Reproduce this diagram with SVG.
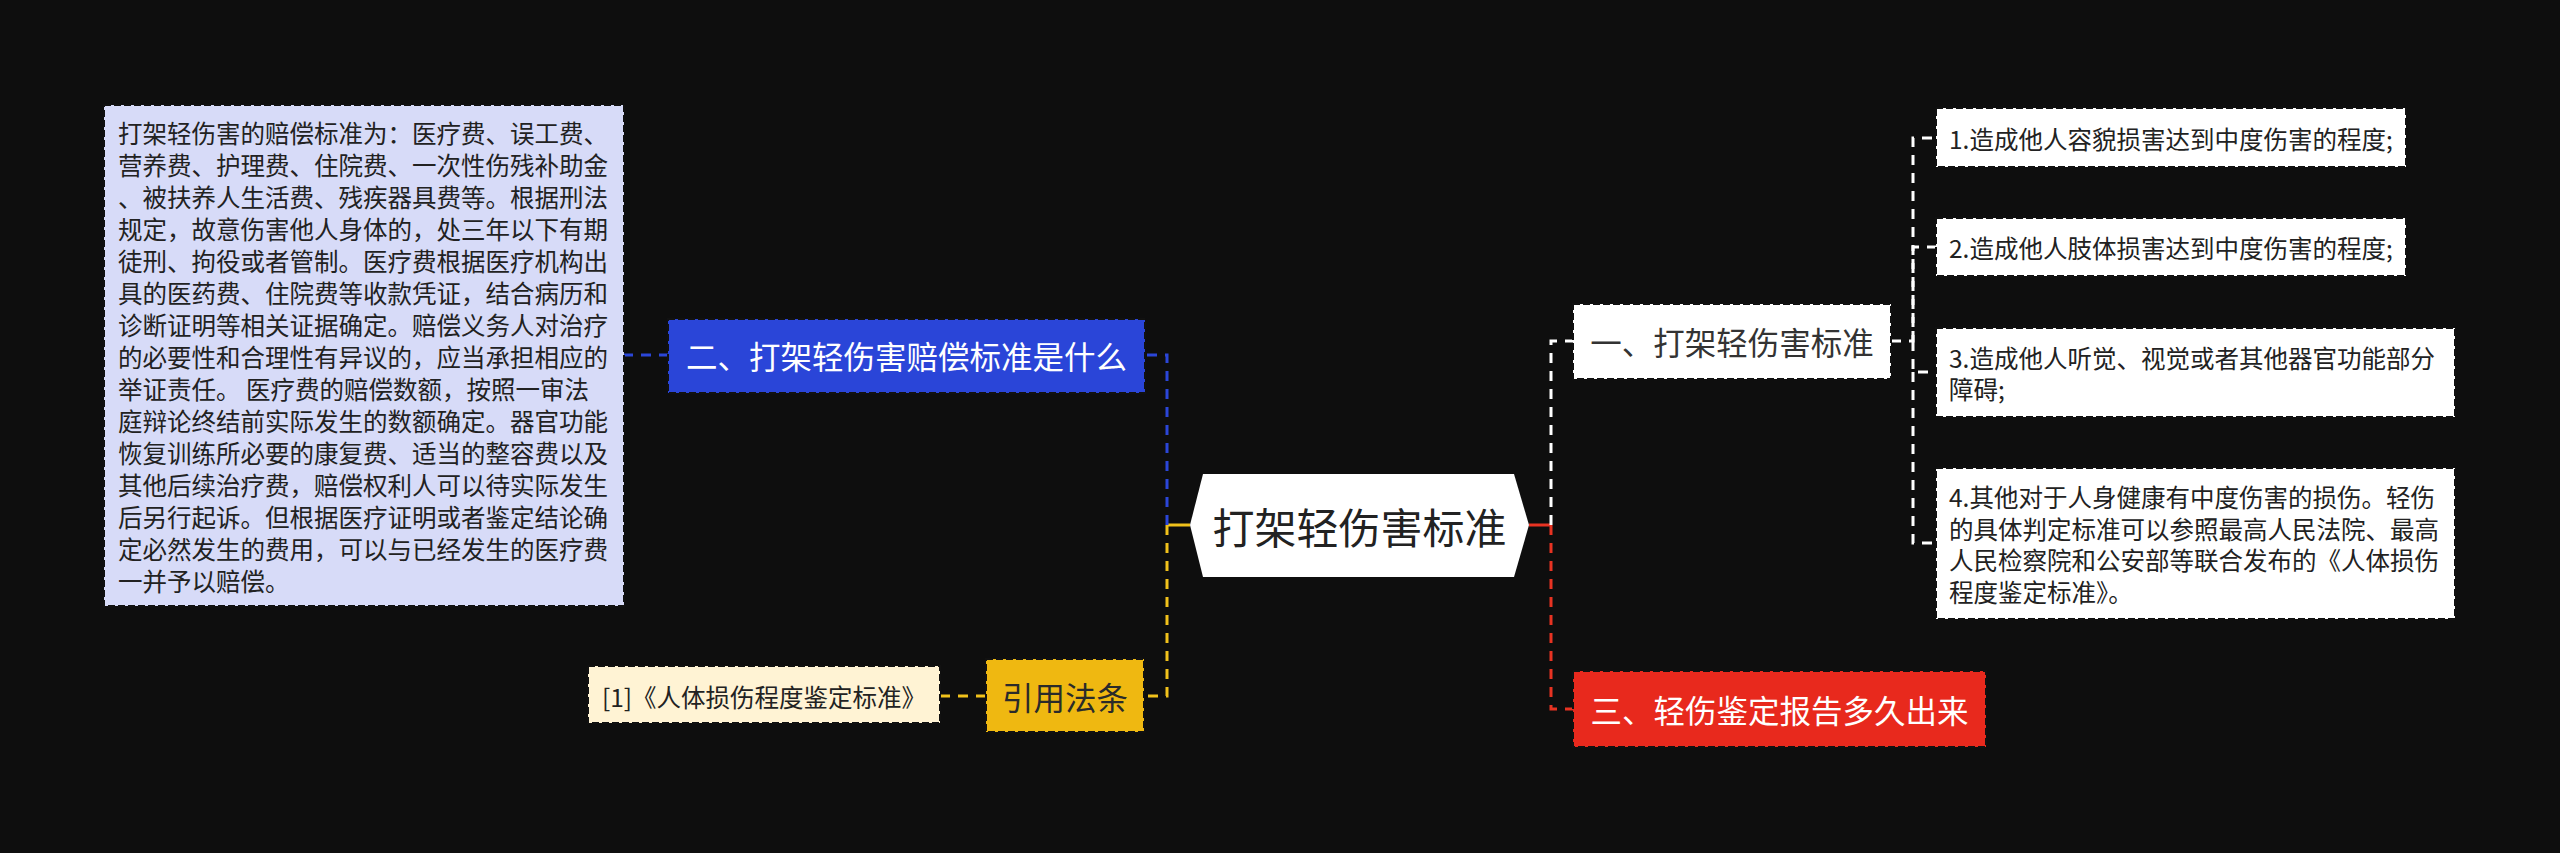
<svg xmlns="http://www.w3.org/2000/svg" width="2560" height="853" viewBox="0 0 2560 853">
<style>
text{font-family:"Noto Sans CJK SC","Noto Sans",sans-serif;dominant-baseline:central}
.box{stroke:#111;stroke-width:2;stroke-dasharray:7 3}
.sm{font-size:24.5px;fill:#222}
.lg{font-size:31.5px}
.c{fill:none;stroke-width:3;stroke-dasharray:10 8}
.s{fill:none;stroke-width:3}
</style>
<rect width="2560" height="853" fill="#0E0E0E"/>
<g id="connectors">
<path class="s" d="M1190,525H1167" stroke="#F1C21B"/>
<path class="c" d="M1167,525V355H1145" stroke="#2B46D8"/>
<path class="c" d="M669,355H624" stroke="#2B46D8"/>
<path class="c" d="M1167,525V696H1144" stroke="#F1C21B"/>
<path class="c" d="M986,696H940" stroke="#F1C21B"/>
<path class="s" d="M1529,525H1551" stroke="#E83322"/>
<path class="c" d="M1551,525V341H1573" stroke="#FFFFFF"/>
<path class="c" d="M1551,525V709H1573" stroke="#E83322"/>
<path class="c" d="M1891,341H1913V138H1936" stroke="#FFFFFF"/>
<path class="c" d="M1913,341V247H1936" stroke="#FFFFFF"/>
<path class="c" d="M1913,341V372H1936" stroke="#FFFFFF"/>
<path class="c" d="M1913,372V543H1936" stroke="#FFFFFF"/>
</g>
<g id="root">
<polygon points="1203,474 1514,474 1529,525 1514,577 1203,577 1190,525" fill="#FFFFFF"/>
<text x="1359.5" y="525" text-anchor="middle" style="font-size:42px" fill="#222">打架轻伤害标准</text>
</g>
<g id="n-er">
<rect class="box" x="668" y="319" width="477" height="74" fill="#2A45D8"/>
<text class="lg" x="906.5" y="355" text-anchor="middle" fill="#FFFFFF">二、打架轻伤害赔偿标准是什么</text>
</g>
<g id="n-er-detail">
<rect class="box" x="104" y="105" width="520" height="501" fill="#D7DBF8"/>
<text class="sm" x="118" fill="#1E1E35">
<tspan x="118" y="132">打架轻伤害的赔偿标准为：医疗费、误工费、</tspan>
<tspan x="118" y="164">营养费、护理费、住院费、一次性伤残补助金</tspan>
<tspan x="118" y="196">、被扶养人生活费、残疾器具费等。根据刑法</tspan>
<tspan x="118" y="228">规定，故意伤害他人身体的，处三年以下有期</tspan>
<tspan x="118" y="260">徒刑、拘役或者管制。医疗费根据医疗机构出</tspan>
<tspan x="118" y="292">具的医药费、住院费等收款凭证，结合病历和</tspan>
<tspan x="118" y="324">诊断证明等相关证据确定。赔偿义务人对治疗</tspan>
<tspan x="118" y="356">的必要性和合理性有异议的，应当承担相应的</tspan>
<tspan x="118" y="388">举证责任。 医疗费的赔偿数额，按照一审法</tspan>
<tspan x="118" y="420">庭辩论终结前实际发生的数额确定。器官功能</tspan>
<tspan x="118" y="452">恢复训练所必要的康复费、适当的整容费以及</tspan>
<tspan x="118" y="484">其他后续治疗费，赔偿权利人可以待实际发生</tspan>
<tspan x="118" y="516">后另行起诉。但根据医疗证明或者鉴定结论确</tspan>
<tspan x="118" y="548">定必然发生的费用，可以与已经发生的医疗费</tspan>
<tspan x="118" y="580">一并予以赔偿。</tspan>
</text>
</g>
<g id="n-yinyong">
<rect class="box" x="986" y="659" width="158" height="73" fill="#EFB811"/>
<text class="lg" x="1065" y="696" text-anchor="middle" fill="#2A2A2A">引用法条</text>
</g>
<g id="n-yinyong-1">
<rect class="box" x="588" y="666" width="352" height="57" fill="#FFF3D4"/>
<text class="sm" x="764" y="696" text-anchor="middle" fill="#333">[1]《人体损伤程度鉴定标准》</text>
</g>
<g id="n-yi">
<rect class="box" x="1573" y="304" width="318" height="75" fill="#FFFFFF"/>
<text class="lg" x="1732" y="341" text-anchor="middle" fill="#333">一、打架轻伤害标准</text>
</g>
<g id="n-yi-1">
<rect class="box" x="1936" y="108" width="470" height="59" fill="#FFFFFF"/>
<text class="sm" x="1949" y="138" fill="#333">1.造成他人容貌损害达到中度伤害的程度;</text>
</g>
<g id="n-yi-2">
<rect class="box" x="1936" y="218" width="470" height="58" fill="#FFFFFF"/>
<text class="sm" x="1949" y="247" fill="#333">2.造成他人肢体损害达到中度伤害的程度;</text>
</g>
<g id="n-yi-3">
<rect class="box" x="1936" y="328" width="519" height="89" fill="#FFFFFF"/>
<text class="sm" fill="#333"><tspan x="1949" y="357">3.造成他人听觉、视觉或者其他器官功能部分</tspan><tspan x="1949" y="388">障碍;</tspan></text>
</g>
<g id="n-yi-4">
<rect class="box" x="1936" y="468" width="519" height="151" fill="#FFFFFF"/>
<text class="sm" fill="#333"><tspan x="1949" y="496">4.其他对于人身健康有中度伤害的损伤。轻伤</tspan><tspan x="1949" y="528">的具体判定标准可以参照最高人民法院、最高</tspan><tspan x="1949" y="559">人民检察院和公安部等联合发布的《人体损伤</tspan><tspan x="1949" y="591">程度鉴定标准》。</tspan></text>
</g>
<g id="n-san">
<rect class="box" x="1573" y="671" width="413" height="76" fill="#E8291D"/>
<text class="lg" x="1779.5" y="709" text-anchor="middle" fill="#FFFFFF">三、轻伤鉴定报告多久出来</text>
</g>
</svg>
